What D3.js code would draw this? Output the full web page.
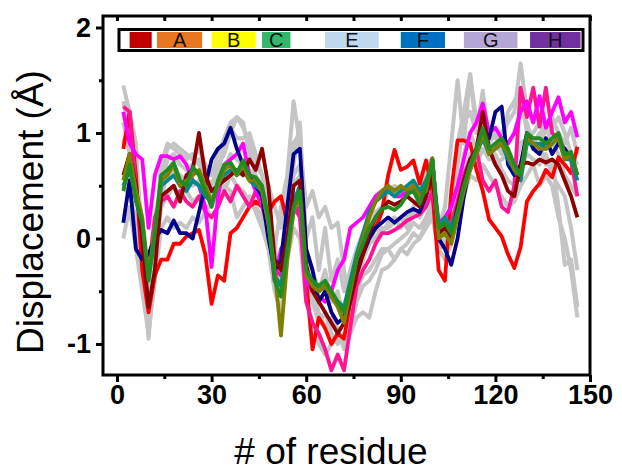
<!DOCTYPE html>
<html>
<head>
<meta charset="utf-8">
<script src="https://cdn.jsdelivr.net/npm/d3@7"></script>
<style>
body { margin: 0; background: #fff; }
text { font-family: "Liberation Sans", Arial, sans-serif; }
</style>
</head>
<body>
<script>
// residue numbers (every second residue)
const residues = [2,4,6,8,10,12,14,16,18,20,22,24,26,28,30,32,34,36,38,40,
  42,44,46,48,50,52,54,56,58,60,62,64,66,68,70,72,74,76,78,80,
  82,84,86,88,90,92,94,96,98,100,102,104,106,108,110,112,114,116,118,120,
  122,124,126,128,130,132,134,136,138,140,142,144,146];

// gray background runs
const gray1 = [1.45,1.2,0.9,-0.2,-0.95,-0.2,0.6,0.85,0.9,0.85,
  0.8,0.75,0.85,0.7,0.6,0.8,0.95,1.1,1.15,1.05,
  0.9,0.7,0.6,0.3,-0.1,0.3,0.6,1.3,0.9,0.3,
  0.45,0.2,0.3,0.1,0.15,-0.3,-0.7,-0.5,-0.2,-0.05,
  0.1,0.05,0.15,0.2,0.1,0.2,0.3,0.4,0.7,0.75,
  0.1,0.3,0.9,1.5,0.9,1.55,1.0,1.4,0.9,1.0,
  0.8,1.2,1.3,1.4,1.0,1.0,1.1,0.9,1.05,1.15,
  1.0,0.8,0.7];
const gray2 = [0.0,0.3,-0.1,-0.5,-0.9,-0.4,0.1,0.2,0.1,0.15,
  0.1,0.2,0.15,0.25,0.35,0.4,0.5,0.45,0.2,0.3,
  0.4,0.25,0.1,-0.1,-0.5,-0.7,-0.2,0.1,0.0,-0.6,
  -0.8,-1.0,-1.1,-1.0,-0.95,-1.0,-0.9,-0.75,-0.7,-0.75,
  -0.5,-0.3,-0.27,-0.2,-0.1,-0.15,-0.05,0.0,0.1,0.2,
  -0.1,-0.2,-0.05,0.2,0.4,0.6,0.55,0.7,0.6,0.5,
  0.4,0.3,0.35,0.5,0.6,0.7,0.5,0.6,0.5,0.2,
  0.0,-0.3,-0.75];
const gray3 = [1.3,1.0,0.7,0.1,-0.6,0.0,0.7,0.9,0.85,0.8,
  0.75,0.8,0.7,0.6,0.5,0.7,0.8,1.0,1.15,1.1,
  0.8,0.6,0.5,0.5,0.3,0.1,0.4,0.9,1.0,0.0,
  0.2,-0.3,0.1,-0.4,-0.2,-0.5,-0.3,-0.1,0.05,0.15,
  0.25,0.3,0.45,0.5,0.45,0.4,0.5,0.45,0.6,0.5,
  0.2,0.1,0.3,0.9,1.2,1.56,1.1,1.2,1.0,0.95,
  1.0,1.1,1.2,1.66,1.2,1.1,1.2,1.0,1.15,1.0,
  0.9,1.05,0.8];
const gray4 = [0.5,0.4,0.2,-0.3,-0.8,-0.2,0.3,0.4,0.5,0.4,
  0.45,0.35,0.4,0.3,0.2,0.3,0.45,0.6,0.5,0.45,
  0.35,0.3,0.2,0.0,-0.3,-0.45,0.0,0.5,0.6,-0.4,
  -0.6,-0.8,-0.7,-0.9,-1.0,-0.9,-0.8,-0.5,-0.35,-0.3,
  -0.2,-0.1,-0.1,-0.05,0.0,0.05,0.15,0.1,0.2,0.35,
  -0.05,0.0,0.1,0.35,0.6,0.8,0.7,0.85,0.75,0.8,
  0.65,0.55,0.5,0.7,0.8,0.75,0.7,0.8,0.6,0.5,
  0.4,0.1,-0.3];
const gray5 = [0.9,1.1,0.5,0.2,-0.5,0.2,0.5,0.75,0.8,0.7,
  0.65,0.7,0.75,0.55,0.4,0.6,0.9,1.05,0.95,0.95,
  1.0,0.8,0.6,0.3,-0.2,-0.4,0.2,0.7,1.1,-0.1,
  -0.3,-0.5,-0.3,-0.6,-0.5,-0.8,-0.6,-0.3,-0.15,-0.05,
  0.0,0.1,0.1,0.15,0.2,0.1,0.25,0.2,0.3,0.5,
  0.0,0.05,0.2,0.7,1.1,1.2,1.0,1.05,0.85,0.9,
  0.8,0.9,1.0,1.2,1.1,0.9,1.0,0.85,0.9,0.8,
  0.6,0.5,0.4];
const gray6 = [1.1,0.8,0.6,0.0,-0.7,-0.1,0.4,0.6,0.65,0.6,
  0.55,0.5,0.55,0.45,0.3,0.5,0.65,0.8,0.75,0.7,
  0.65,0.55,0.4,0.2,-0.1,-0.3,0.1,0.6,0.7,-0.2,
  -0.5,-0.7,-0.85,-0.75,-0.85,-1.05,-0.85,-0.6,-0.45,-0.4,
  -0.3,-0.15,-0.1,-0.2,-0.1,-0.05,0.05,0.0,0.15,0.3,
  -0.1,-0.05,0.1,0.45,0.8,1.0,0.85,0.95,0.8,0.7,
  0.75,0.8,0.65,0.9,0.95,0.85,0.9,0.7,0.75,0.3,
  -0.25,-0.2,-0.65];

// coloured runs
const red = [0.85,1.2,0.6,-0.3,-0.7,-0.35,-0.2,-0.2,-0.05,-0.05,
  0.02,0.05,0.08,-0.15,-0.62,-0.35,-0.4,0.05,0.1,0.2,
  0.3,0.35,0.3,0.25,0.35,0.4,0.15,0.25,0.28,-0.4,
  -1.05,-0.75,-0.85,-1.0,-0.9,-0.95,-0.6,-0.3,-0.1,0.05,
  0.1,0.25,0.6,0.84,0.65,0.68,0.74,0.52,0.74,0.45,
  -0.3,-0.4,0.45,0.93,0.93,0.9,0.65,0.45,0.18,0.1,
  0.02,-0.15,-0.28,-0.08,0.35,0.45,0.52,0.65,0.58,0.77,
  0.7,0.62,0.87];
const pink = [1.25,1.2,0.5,0.0,-0.3,0.2,0.35,0.4,0.3,0.45,
  0.35,0.3,0.4,0.25,0.2,0.3,0.45,0.35,0.5,0.4,
  0.3,0.45,0.3,0.1,-0.3,-0.35,0.0,0.3,0.2,-0.6,
  -0.8,-0.9,-1.05,-1.25,-1.1,-1.25,-0.84,-0.45,-0.3,-0.2,
  -0.05,0.05,0.05,0.08,0.12,0.17,0.2,0.23,0.3,0.45,
  0.1,0.15,0.15,0.35,0.6,0.75,0.84,0.55,0.45,0.55,
  0.3,0.25,0.5,1.43,1.15,1.43,1.06,1.43,1.0,0.93,
  0.85,0.74,0.4];
const magenta = [1.2,0.9,0.8,0.75,0.1,0.6,0.78,0.78,0.75,0.78,
  0.7,0.55,0.5,0.3,-0.27,0.4,0.7,0.75,0.8,0.9,
  0.6,0.45,0.35,0.1,-0.4,-0.1,0.0,0.25,0.3,-0.4,
  -0.5,-0.55,-0.6,-0.5,-0.3,-0.2,0.1,0.15,0.2,0.3,
  0.4,0.45,0.45,0.4,0.4,0.45,0.5,0.4,0.5,0.6,
  0.15,0.2,0.3,0.5,0.75,1.0,1.1,1.28,1.0,1.05,
  0.95,0.9,1.0,1.2,1.3,1.1,1.35,1.05,1.2,1.34,
  1.1,1.2,0.96];
const navy = [0.15,0.55,-0.1,-0.2,-0.15,0.0,0.08,0.05,0.17,0.05,
  0.05,0.0,0.25,0.5,0.75,0.85,0.9,1.05,0.85,0.7,
  0.6,0.5,0.4,0.0,-0.3,-0.2,0.3,0.8,0.85,-0.1,
  -0.3,-0.6,-0.5,-0.7,-0.8,-0.75,-0.5,-0.3,-0.15,0.0,
  0.1,0.15,0.2,0.15,0.2,0.25,0.28,0.25,0.4,0.76,
  0.0,-0.1,-0.25,0.0,0.4,0.7,0.85,1.0,0.95,1.2,
  1.25,0.7,0.6,0.7,1.0,0.85,0.8,0.95,0.8,0.9,
  0.85,0.75,0.6];
const teal = [0.5,0.65,0.4,0.1,-0.35,0.0,0.5,0.55,0.6,0.5,
  0.45,0.55,0.5,0.4,0.35,0.5,0.6,0.65,0.6,0.65,
  0.55,0.5,0.45,0.15,-0.35,-0.45,-0.05,0.35,0.5,-0.3,
  -0.45,-0.5,-0.45,-0.55,-0.6,-0.65,-0.4,-0.15,0.05,0.25,
  0.35,0.4,0.45,0.4,0.45,0.5,0.55,0.45,0.55,0.7,
  0.1,0.2,0.1,0.3,0.55,0.65,0.8,0.95,0.8,0.85,
  0.9,0.75,0.65,0.55,0.9,0.9,0.9,0.85,0.9,0.95,
  0.75,0.75,0.55];
const maroon = [0.6,0.8,0.5,0.0,-0.65,-0.3,0.4,0.45,0.5,0.35,
  0.6,0.65,1.0,0.6,0.45,0.5,0.55,0.6,0.65,0.6,
  0.75,0.65,0.85,0.5,-0.2,-0.3,0.0,0.5,0.55,-0.25,
  -0.5,-0.6,-0.7,-0.8,-0.9,-0.8,-0.6,-0.35,-0.15,0.05,
  0.2,0.28,0.35,0.32,0.35,0.4,0.35,0.3,0.4,0.6,
  0.05,0.1,0.0,0.3,0.55,0.75,0.85,1.2,0.85,0.7,
  0.6,0.45,0.4,0.7,0.72,0.7,0.75,0.72,0.75,0.7,
  0.55,0.4,0.2];
const olive = [0.55,0.8,0.45,0.2,-0.35,0.1,0.55,0.6,0.7,0.5,
  0.55,0.6,0.65,0.5,0.35,0.5,0.65,0.7,0.6,0.7,
  0.55,0.55,0.45,0.15,-0.3,-0.92,-0.2,0.25,0.4,-0.35,
  -0.45,-0.5,-0.45,-0.55,-0.65,-0.8,-0.5,-0.2,0.0,0.2,
  0.35,0.45,0.5,0.45,0.5,0.45,0.5,0.4,0.45,0.76,
  0.0,0.05,-0.05,0.2,0.45,0.65,0.8,1.0,0.8,0.85,
  0.9,0.8,0.65,0.6,0.95,0.9,0.85,0.85,0.9,0.95,
  0.75,0.8,0.6];
const green = [0.45,0.7,0.35,0.15,-0.4,0.05,0.6,0.65,0.72,0.55,
  0.5,0.68,0.6,0.45,0.3,0.55,0.7,0.72,0.62,0.74,
  0.6,0.58,0.5,0.2,-0.4,-0.55,-0.1,0.3,0.45,-0.3,
  -0.4,-0.45,-0.4,-0.5,-0.6,-0.7,-0.45,-0.2,-0.05,0.1,
  0.2,0.28,0.3,0.27,0.32,0.42,0.45,0.33,0.5,0.74,
  0.1,0.15,0.05,0.25,0.5,0.7,0.85,1.05,0.85,0.9,
  0.95,0.85,0.7,0.6,1.0,0.95,0.95,0.9,0.95,1.0,
  0.8,0.82,0.6];

const grayRuns = [gray1, gray2, gray3, gray4, gray5, gray6];
const colorRuns = [red, pink, magenta, navy, teal, maroon, olive, green];
const runColors = ["#ff0000", "#ff1493", "#ff00ff", "#00008b", "#008b8b", "#8b0000", "#808000", "#228b22"];

// helix bar on top
const helixLabels = ["", "A", "B", "C", "E", "F", "G", "H"];
const helixStart = [4, 12.7, 30, 46, 66, 90, 110, 131];
const helixEnd = [11, 27, 44, 55, 83, 104, 127, 147];
const helixColors = ["#c00000", "#e87722", "#ffff00", "#33b86b", "#bdd7ee", "#0070c0", "#b4a7d6", "#7030a0"];

const xTicks = [0, 30, 60, 90, 120, 150];
const xMinor = [15, 45, 75, 105, 135];
const yTicks = [2, 1, 0, -1];
const yMinor = [1.5, 0.5, -0.5];

///dimensions
const width = 622;
const height = 474;
const plotL = 103, plotR = 590, plotT = 16, plotB = 375;

const svg = d3.select("body")
  .append("svg")
  .attr("width", width)
  .attr("height", height);

const x = d3.scaleLinear().domain([-4.44, 150]).range([plotL, plotR]);
const y = d3.scaleLinear().domain([-1.294, 2.109]).range([plotB, plotT]);

const line = d3.line()
  .x((d, i) => x(residues[i]))
  .y(d => y(d));

//gray runs first, coloured on top
svg.append("g")
  .selectAll("path")
  .data(grayRuns)
  .enter()
  .append("path")
  .attr("d", line)
  .attr("fill", "none")
  .attr("stroke", "#c4c4c4")
  .attr("stroke-width", 4)
  .attr("stroke-linejoin", "round");

svg.append("g")
  .selectAll("path")
  .data(colorRuns)
  .enter()
  .append("path")
  .attr("d", line)
  .attr("fill", "none")
  .attr("stroke", (d, i) => runColors[i])
  .attr("stroke-width", 3.8)
  .attr("stroke-linejoin", "round");

//helix bar
svg.append("rect")
  .attr("x", 119).attr("y", 29.5)
  .attr("width", 464).attr("height", 21)
  .attr("fill", "#fff")
  .attr("stroke", "#000")
  .attr("stroke-width", 3);

const cells = svg.append("g")
  .selectAll("g")
  .data(helixLabels)
  .enter()
  .append("g");

cells.append("rect")
  .attr("x", (d, i) => x(helixStart[i]))
  .attr("y", 32)
  .attr("width", (d, i) => x(helixEnd[i]) - x(helixStart[i]))
  .attr("height", 16)
  .attr("fill", (d, i) => helixColors[i]);

cells.append("text")
  .attr("x", (d, i) => x((helixStart[i] + helixEnd[i]) / 2))
  .attr("y", 47)
  .attr("text-anchor", "middle")
  .attr("font-size", 20)
  .attr("fill", "#111")
  .text(d => d);

//axes
svg.append("g")
  .attr("transform", `translate(0,${plotB})`)
  .call(d3.axisBottom(x).tickValues(xTicks).tickSize(7).tickPadding(3));
svg.append("g")
  .attr("transform", `translate(0,${plotB})`)
  .call(d3.axisBottom(x).tickValues(xMinor).tickSize(4).tickFormat(""));
svg.append("g")
  .attr("transform", `translate(0,${plotT})`)
  .call(d3.axisBottom(x).tickValues(xTicks.concat(xMinor)).tickSize(5).tickFormat(""));

svg.append("g")
  .attr("transform", `translate(${plotL},0)`)
  .call(d3.axisLeft(y).tickValues(yTicks).tickSize(7).tickPadding(5).tickFormat(d => String(d)));
svg.append("g")
  .attr("transform", `translate(${plotL},0)`)
  .call(d3.axisLeft(y).tickValues(yMinor).tickSize(4).tickFormat(""));

svg.selectAll(".domain").remove();
svg.selectAll(".tick line").attr("stroke", "#000").attr("stroke-width", 3);
svg.selectAll(".tick text")
  .attr("font-family", "Liberation Sans, Arial, sans-serif")
  .attr("font-size", 27)
  .attr("font-weight", "bold")
  .attr("fill", "#000");

//frame
svg.append("rect")
  .attr("x", plotL).attr("y", plotT)
  .attr("width", plotR - plotL).attr("height", plotB - plotT)
  .attr("fill", "none")
  .attr("stroke", "#000")
  .attr("stroke-width", 3);

//titles
svg.append("text")
  .attr("x", 331).attr("y", 464)
  .attr("text-anchor", "middle")
  .attr("font-size", 37)
  .text("# of residue");

svg.append("text")
  .attr("transform", "translate(43,212) rotate(-90)")
  .attr("text-anchor", "middle")
  .attr("font-size", 37)
  .text("Displacement (Å)");
</script>
</body>
</html>
